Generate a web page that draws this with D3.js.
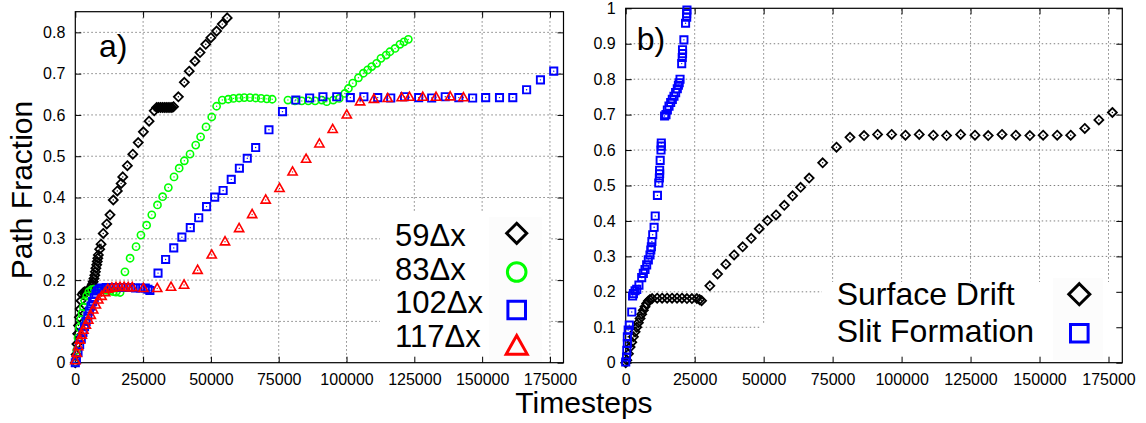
<!DOCTYPE html>
<html>
<head>
<meta charset="utf-8">
<script src="https://cdn.jsdelivr.net/npm/d3@7"></script>
<style>
  body { margin: 0; background: #fff; }
  svg { display: block; font-family: "Liberation Sans", Arial, Helvetica, sans-serif; }
</style>
</head>
<body>
<svg id="chart" width="1146" height="423"></svg>
<script>
// ---- tick values and labels ----
const xTicks  = [0, 25000, 50000, 75000, 100000, 125000, 150000, 175000];
const xLabels = ["0", "25000", "50000", "75000", "100000", "125000", "150000", "175000"];
const yTicksA  = [0, 0.1, 0.2, 0.3, 0.4, 0.5, 0.6, 0.7, 0.8];
const yLabelsA = ["0", "0.1", "0.2", "0.3", "0.4", "0.5", "0.6", "0.7", "0.8"];
const yTicksB  = [0, 0.1, 0.2, 0.3, 0.4, 0.5, 0.6, 0.7, 0.8, 0.9, 1];
const yLabelsB = ["0", "0.1", "0.2", "0.3", "0.4", "0.5", "0.6", "0.7", "0.8", "0.9", "1"];

// ---- panel a: path fraction for four widths ----
const w59X = [0,300,600,900,1200,1500,1800,2100,2500,3000,3500,4000,4500,5000,5500,6000,6300,6600,6900,7200,
  7400,7600,7900,8100,8300,8500,9000,9500,10300,11600,12800,14000,15500,16900,17500,19200,21200,23200,25100,27200,
  29100,30000,30700,31400,32100,32800,33500,34200,34900,35600,36200,38000,40200,42000,44100,46000,48100,50000,52100,54200,56000];
const w59Y = [0,0.02,0.045,0.07,0.09,0.11,0.13,0.15,0.165,0.17,0.172,0.172,0.173,0.175,0.18,0.185,0.19,0.196,0.204,0.212,
  0.22,0.229,0.237,0.245,0.253,0.261,0.275,0.287,0.313,0.336,0.358,0.394,0.416,0.434,0.450,0.477,0.505,0.533,0.559,0.585,
  0.610,0.618,0.618,0.618,0.618,0.618,0.618,0.618,0.618,0.618,0.620,0.644,0.679,0.706,0.730,0.751,0.771,0.787,0.803,0.820,0.835];

const w83X = [0,500,1000,1500,2000,2500,3000,3500,4200,5000,6000,7000,8000,9000,10000,11000,12000,13000,14000,15000,
  16500,18300,20200,22400,24200,26300,28200,30300,32200,34300,36400,38300,40200,42300,44400,46200,48200,50300,52100,54200,
  56400,58300,60400,62300,64400,66500,68500,70600,72600,78400,81000,83500,85900,88400,90900,92700,95100,97300,99400,100700,
  102300,104400,106200,107800,109300,111100,112700,114600,116000,117900,119700,121200,122800];
const w83Y = [0,0.03,0.06,0.085,0.105,0.12,0.135,0.15,0.162,0.172,0.177,0.178,0.178,0.178,0.177,0.176,0.175,0.174,0.172,0.171,
  0.17,0.22,0.253,0.281,0.309,0.333,0.358,0.382,0.402,0.424,0.45,0.471,0.489,0.505,0.527,0.547,0.571,0.595,0.621,0.636,
  0.638,0.640,0.641,0.642,0.642,0.641,0.640,0.639,0.638,0.636,0.634,0.634,0.634,0.634,0.636,0.632,0.636,0.640,0.652,0.664,
  0.677,0.690,0.701,0.709,0.717,0.725,0.737,0.745,0.753,0.761,0.771,0.777,0.783];

// 102Δx run (also the "Surface Drift" curve of panel b)
const w102X = [0,400,1000,1600,2200,2800,3400,4000,4600,5200,5800,6400,7000,7600,8200,8800,9600,11400,13200,15000,
  16800,18600,20400,22200,24000,25800,26800,27500,30500,33300,36300,39300,42400,45500,48400,51400,54500,57500,
  60500,63400,66500,71400,76400,81300,86400,91300,96400,101400,106400,111500,116300,121400,126600,131400,136400,141400,
  146500,151300,156400,161300,166400,171500,176400];
const w102Y = [0,0.007,0.025,0.044,0.058,0.073,0.087,0.10,0.113,0.125,0.137,0.148,0.158,0.167,0.174,0.178,0.181,0.182,0.182,0.182,
  0.182,0.182,0.182,0.181,0.181,0.181,0.178,0.175,0.217,0.250,0.278,0.304,0.327,0.351,0.378,0.401,0.417,0.444,
  0.471,0.495,0.521,0.564,0.608,0.636,0.641,0.644,0.644,0.642,0.644,0.642,0.641,0.644,0.642,0.641,0.644,0.642,
  0.641,0.642,0.642,0.642,0.661,0.685,0.706];

const w117X = [0,500,1100,1700,2400,3000,3900,4800,5700,6600,7600,8500,9700,11000,12000,13500,15000,16500,18000,19500,
  21000,25100,30200,35300,40100,45100,50300,55200,60400,65200,70200,75300,80100,85100,90000,94900,100100,105000,110100,115200,
  120300,123200,128100,133000,138200,143100];
const w117Y = [0.005,0.023,0.039,0.055,0.067,0.079,0.091,0.103,0.115,0.128,0.14,0.152,0.161,0.17,0.178,0.181,0.182,0.183,0.183,0.182,
  0.182,0.180,0.180,0.183,0.188,0.224,0.261,0.293,0.325,0.359,0.394,0.422,0.462,0.493,0.530,0.565,0.600,0.632,0.638,0.640,
  0.642,0.643,0.643,0.643,0.644,0.642];

// ---- panel b: slit formation ----
const slitX = [0,300,400,600,600,900,1300,2200,2500,2800,3400,4000,4800,5800,6400,7000,7600,8200,8800,
  9100,9300,9500,9800,10300,10700,11500,12000,12200,12300,12300,12500,12800,12900,12900,14100,14600,15100,15700,16300,
  16900,17500,18100,18700,19100,19400,19700,20300,20500,20600,20600,21100,21700,22100,22100,22200];
const slitY = [0.002,0.016,0.035,0.054,0.073,0.092,0.106,0.143,0.188,0.195,0.203,0.207,0.219,0.240,0.252,0.263,0.276,0.290,0.304,
  0.318,0.327,0.342,0.361,0.382,0.414,0.472,0.507,0.521,0.533,0.543,0.571,0.600,0.611,0.620,0.696,0.700,0.713,0.724,0.734,
  0.743,0.752,0.762,0.773,0.783,0.790,0.800,0.844,0.861,0.872,0.883,0.911,0.958,0.975,0.985,0.995];

const legendA = ["59\u0394x", "83\u0394x", "102\u0394x", "117\u0394x"];
const legendB = ["Surface Drift", "Slit Formation"];

// ---- drawing ----
const svg = d3.select("#chart");
const BLACK = "#000000", GREEN = "#00ff00", BLUE = "#0000ff", RED = "#ff0000";

const shapes = {
  diamond: h => `M0,${-h}L${h},0L0,${h}L${-h},0Z`,
  square: h => `M${-h},${-h}H${h}V${h}H${-h}Z`,
  triangle: h => `M0,${-h * 1.1}L${h},${h * 0.68}L${-h},${h * 0.68}Z`,
  circle: h => `M${h},0A${h},${h} 0 1,1 ${-h},0A${h},${h} 0 1,1 ${h},0Z`
};
const markSize = { diamond: 4.5, square: 3.6, triangle: 4.6, circle: 3.6 };
const markStroke = { diamond: 1.8, square: 1.9, triangle: 1.6, circle: 1.6 };

function drawSeries(g, xs, ys, x, y, shape, color) {
  const pts = xs.map((d, i) => [d, ys[i]]);
  const m = g.append("g").selectAll("g").data(pts).join("g")
    .attr("transform", d => `translate(${x(d[0])},${y(d[1])})`);
  m.append("path").attr("d", shapes[shape](markSize[shape]))
    .attr("fill", "none").attr("stroke", color).attr("stroke-width", markStroke[shape]);
  m.append("circle").attr("r", 0.7).attr("fill", color);
}

function legendMark(g, cx, cy, shape, color, h) {
  g.append("path").attr("transform", `translate(${cx},${cy})`)
    .attr("d", shapes[shape](h))
    .attr("fill", "none").attr("stroke", color).attr("stroke-width", 3);
}

function buildPanel(p) {
  const g = svg.append("g");
  const x = d3.scaleLinear().domain([0, 180000]).range([p.left, p.right]);
  const y = d3.scaleLinear().domain([0, p.yMax]).range([p.bottom, p.top]);

  // dotted grid
  const grid = g.append("g").attr("stroke", "#808080").attr("stroke-width", 1)
    .attr("stroke-dasharray", "1.5,2.5");
  grid.selectAll("line.v").data(xTicks.filter(d => d > 0)).join("line")
    .attr("x1", d => x(d)).attr("x2", d => x(d)).attr("y1", p.bottom).attr("y2", p.top);
  grid.selectAll("line.h").data(p.yTicks.filter(d => d > 0 && d < p.yMax)).join("line")
    .attr("y1", d => y(d)).attr("y2", d => y(d)).attr("x1", p.left).attr("x2", p.right);

  // opaque key boxes
  p.keyBoxes.forEach(b => g.append("rect").attr("x", b[0]).attr("y", b[1])
    .attr("width", b[2] - b[0]).attr("height", b[3] - b[1]).attr("fill", b[4]));

  // axes with inward ticks on all four sides
  const fmtX = (d, i) => xLabels[i];
  const fmtY = (d, i) => p.yLabels[i];
  const axes = [
    g.append("g").attr("transform", `translate(0,${p.bottom})`)
      .call(d3.axisBottom(x).tickValues(xTicks).tickFormat(fmtX).tickSize(-6).tickPadding(11)),
    g.append("g").attr("transform", `translate(${p.left},0)`)
      .call(d3.axisLeft(y).tickValues(p.yTicks).tickFormat(fmtY).tickSize(-6).tickPadding(10)),
    g.append("g").attr("transform", `translate(0,${p.top})`)
      .call(d3.axisTop(x).tickValues(xTicks).tickFormat("").tickSize(-6)),
    g.append("g").attr("transform", `translate(${p.right},0)`)
      .call(d3.axisRight(y).tickValues(p.yTicks).tickFormat("").tickSize(-6))
  ];
  axes.forEach(a => {
    a.select(".domain").remove();
    a.attr("font-family", null).attr("font-size", 16);
    a.selectAll("line").attr("stroke", "#000");
    a.selectAll("text").attr("fill", "#000");
  });

  g.append("rect").attr("x", p.left).attr("y", p.top)
    .attr("width", p.right - p.left).attr("height", p.bottom - p.top)
    .attr("fill", "none").attr("stroke", "#000").attr("stroke-width", 1.2);

  g.append("text").attr("x", p.tagX).attr("y", p.tagY).attr("font-size", 32).text(p.tag);
  return { g, x, y };
}

// panel a
const A = buildPanel({
  left: 75.3, right: 563.5, top: 11.7, bottom: 362.7, yMax: 0.85,
  yTicks: yTicksA, yLabels: yLabelsA, tag: "a)", tagX: 99, tagY: 57,
  keyBoxes: [[380, 212, 549, 362, "#ffffff"], [489, 217, 542, 362, "#fcfcfc"]]
});
drawSeries(A.g, w59X, w59Y, A.x, A.y, "diamond", BLACK);
drawSeries(A.g, w83X, w83Y, A.x, A.y, "circle", GREEN);
drawSeries(A.g, w102X, w102Y, A.x, A.y, "square", BLUE);
drawSeries(A.g, w117X, w117Y, A.x, A.y, "triangle", RED);

const legA = A.g.append("g");
const legAShapes = [["diamond", BLACK, 10, 233.3], ["circle", GREEN, 9.3, 272], ["square", BLUE, 8.8, 310], ["triangle", RED, 10.5, 347]];
legendA.forEach((t, i) => {
  const base = 246 + i * 33.6;
  legA.append("text").attr("x", 395).attr("y", base).attr("font-size", 31).text(t);
  legendMark(legA, 516.7, legAShapes[i][3], legAShapes[i][0], legAShapes[i][1], legAShapes[i][2]);
});

// panel b
const B = buildPanel({
  left: 625.7, right: 1122.3, top: 8.3, bottom: 362.7, yMax: 1,
  yTicks: yTicksB, yLabels: yLabelsB, tag: "b)", tagX: 636.7, tagY: 50,
  keyBoxes: [[822, 282, 1121, 362, "#ffffff"], [760, 323, 1121, 362, "#ffffff"], [1053, 278, 1103, 360, "#fcfcfc"]]
});
drawSeries(B.g, w102X, w102Y, B.x, B.y, "diamond", BLACK);
drawSeries(B.g, slitX, slitY, B.x, B.y, "square", BLUE);

const legB = B.g.append("g");
const legBShapes = [["diamond", BLACK, 10.5, 294.2], ["square", BLUE, 8.8, 333.3]];
legendB.forEach((t, i) => {
  const base = 305 + i * 36.7;
  legB.append("text").attr("x", 836.7).attr("y", base).attr("font-size", 32).text(t);
  legendMark(legB, 1079.3, legBShapes[i][3], legBShapes[i][0], legBShapes[i][1], legBShapes[i][2]);
});

// shared axis titles
svg.append("text").attr("x", 584).attr("y", 413).attr("text-anchor", "middle")
  .attr("font-size", 30).text("Timesteps");
svg.append("text").attr("transform", "translate(32,190) rotate(-90)").attr("text-anchor", "middle")
  .attr("font-size", 30).text("Path Fraction");
</script>
</body>
</html>
